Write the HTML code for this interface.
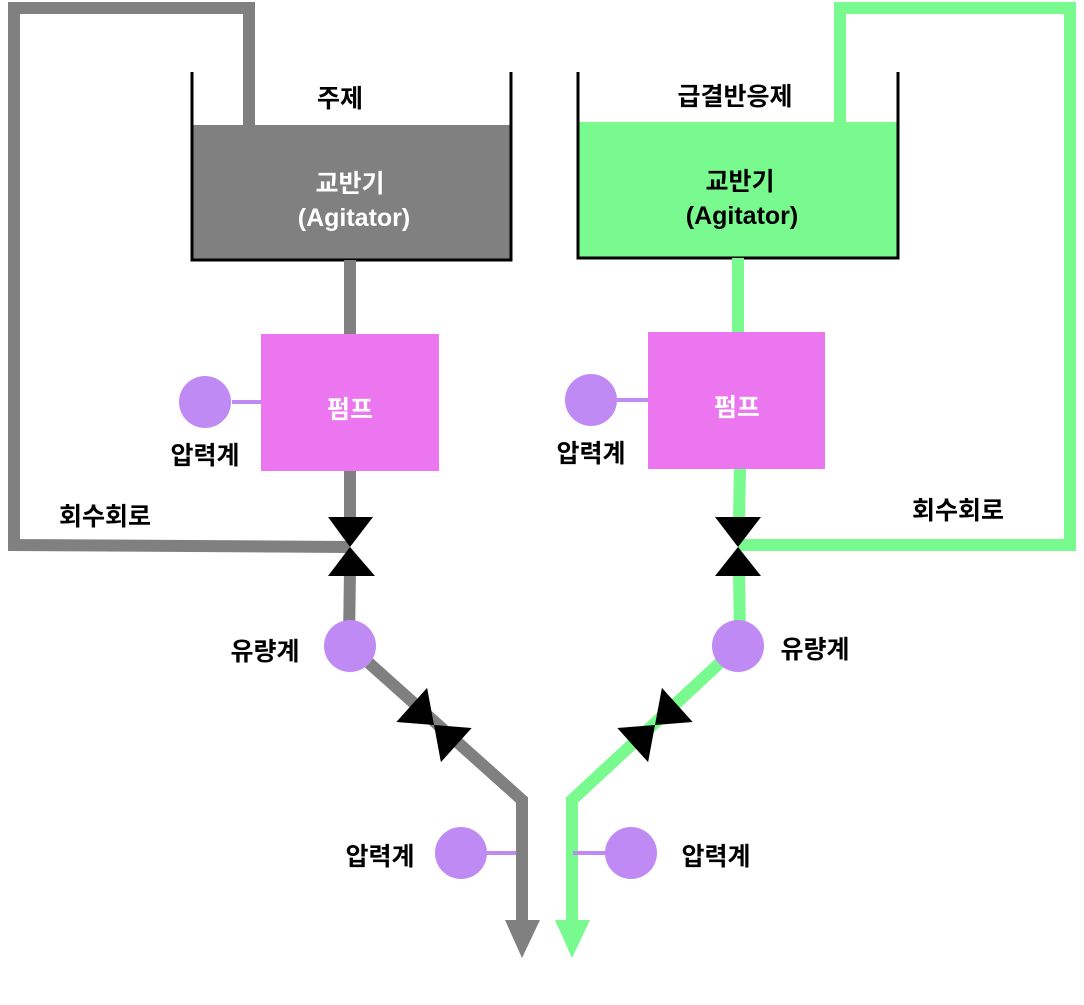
<!DOCTYPE html>
<html><head><meta charset="utf-8"><style>
html,body{margin:0;padding:0;background:#fff;}
svg text{font-family:"Liberation Sans","Noto Sans CJK KR",sans-serif;font-weight:bold;}
</style></head><body>
<svg width="1084" height="1000" viewBox="0 0 1084 1000" xmlns="http://www.w3.org/2000/svg">
<!-- gray side -->
<polyline points="249,125 249,8 14,8 14,545 350,547" fill="none" stroke="#808080" stroke-width="12"/>
<rect x="192" y="125" width="319" height="135" fill="#808080"/>
<polyline points="192,72 192,260 511,260 511,72" fill="none" stroke="#000" stroke-width="3"/>
<line x1="350" y1="260" x2="350" y2="334" stroke="#808080" stroke-width="12"/>
<line x1="350" y1="470" x2="350" y2="520" stroke="#808080" stroke-width="12"/>
<line x1="350" y1="570" x2="349" y2="640" stroke="#808080" stroke-width="12"/>
<polyline points="350,646 522,800 522,925" fill="none" stroke="#808080" stroke-width="12"/>
<polygon points="505,920 540,920 522,958" fill="#808080"/>
<line x1="232" y1="402" x2="261" y2="402" stroke="#c08af5" stroke-width="4"/>
<circle cx="205" cy="402" r="26" fill="#c08af5"/>
<rect x="261" y="334" width="178" height="137" fill="#ec76f0"/>
<polygon points="328,517 373,517 350,547" fill="#000"/>
<polygon points="328,576 375,576 350,547" fill="#000"/>
<circle cx="350" cy="646" r="26" fill="#c08af5"/>
<g transform="translate(434,725) rotate(-48)">
<polygon points="-23,-30 23,-30 0,0" fill="#000"/>
<polygon points="-23,30 23,30 0,0" fill="#000"/>
</g>
<line x1="486" y1="853" x2="516" y2="853" stroke="#c08af5" stroke-width="4"/>
<circle cx="461" cy="853" r="26" fill="#c08af5"/>
<!-- green side -->
<polyline points="840,122 840,8 1070,8 1070,545 738,545" fill="none" stroke="#78fa8e" stroke-width="12"/>
<rect x="578" y="122" width="320" height="136" fill="#78fa8e"/>
<polyline points="578,72 578,258 898,258 898,72" fill="none" stroke="#000" stroke-width="3"/>
<line x1="738" y1="258" x2="738" y2="332" stroke="#78fa8e" stroke-width="12"/>
<line x1="740" y1="468" x2="739" y2="520" stroke="#78fa8e" stroke-width="12"/>
<line x1="739" y1="570" x2="740" y2="640" stroke="#78fa8e" stroke-width="12"/>
<polyline points="738,646 572,800 572,925" fill="none" stroke="#78fa8e" stroke-width="12"/>
<polygon points="555,920 590,920 572,958" fill="#78fa8e"/>
<line x1="617" y1="400" x2="648" y2="400" stroke="#c08af5" stroke-width="4"/>
<circle cx="591" cy="400" r="26" fill="#c08af5"/>
<rect x="648" y="332" width="177" height="137" fill="#ec76f0"/>
<polygon points="715,517 761,517 738,547" fill="#000"/>
<polygon points="715,576 761,576 738,547" fill="#000"/>
<circle cx="738" cy="646" r="26" fill="#c08af5"/>
<g transform="translate(655,725) rotate(48)">
<polygon points="-23,-30 23,-30 0,0" fill="#000"/>
<polygon points="-23,30 23,30 0,0" fill="#000"/>
</g>
<line x1="573" y1="853" x2="606" y2="853" stroke="#c08af5" stroke-width="4"/>
<circle cx="631" cy="853" r="26" fill="#c08af5"/>
<!-- labels -->
<g font-size="25" text-anchor="middle" fill="#000">
<text x="340" y="107">주제</text>
<text x="735" y="105">급결반응제</text>
<text x="205" y="464">압력계</text>
<text x="591" y="462">압력계</text>
<text x="105" y="525">회수회로</text>
<text x="958" y="519">회수회로</text>
<text x="265" y="660">유량계</text>
<text x="815" y="658">유량계</text>
<text x="380" y="865">압력계</text>
<text x="716" y="865">압력계</text>
</g>
<g font-size="25" text-anchor="middle" fill="#fff">
<text x="350" y="192">교반기</text>
<text x="354" y="226" font-weight="normal">(Agitator)</text>
<text x="350" y="418">펌프</text>
<text x="737" y="416">펌프</text>
</g>
<g font-size="25" text-anchor="middle" fill="#000">
<text x="740" y="190">교반기</text>
<text x="742" y="224" font-weight="normal">(Agitator)</text>
</g>
</svg>
</body></html>
